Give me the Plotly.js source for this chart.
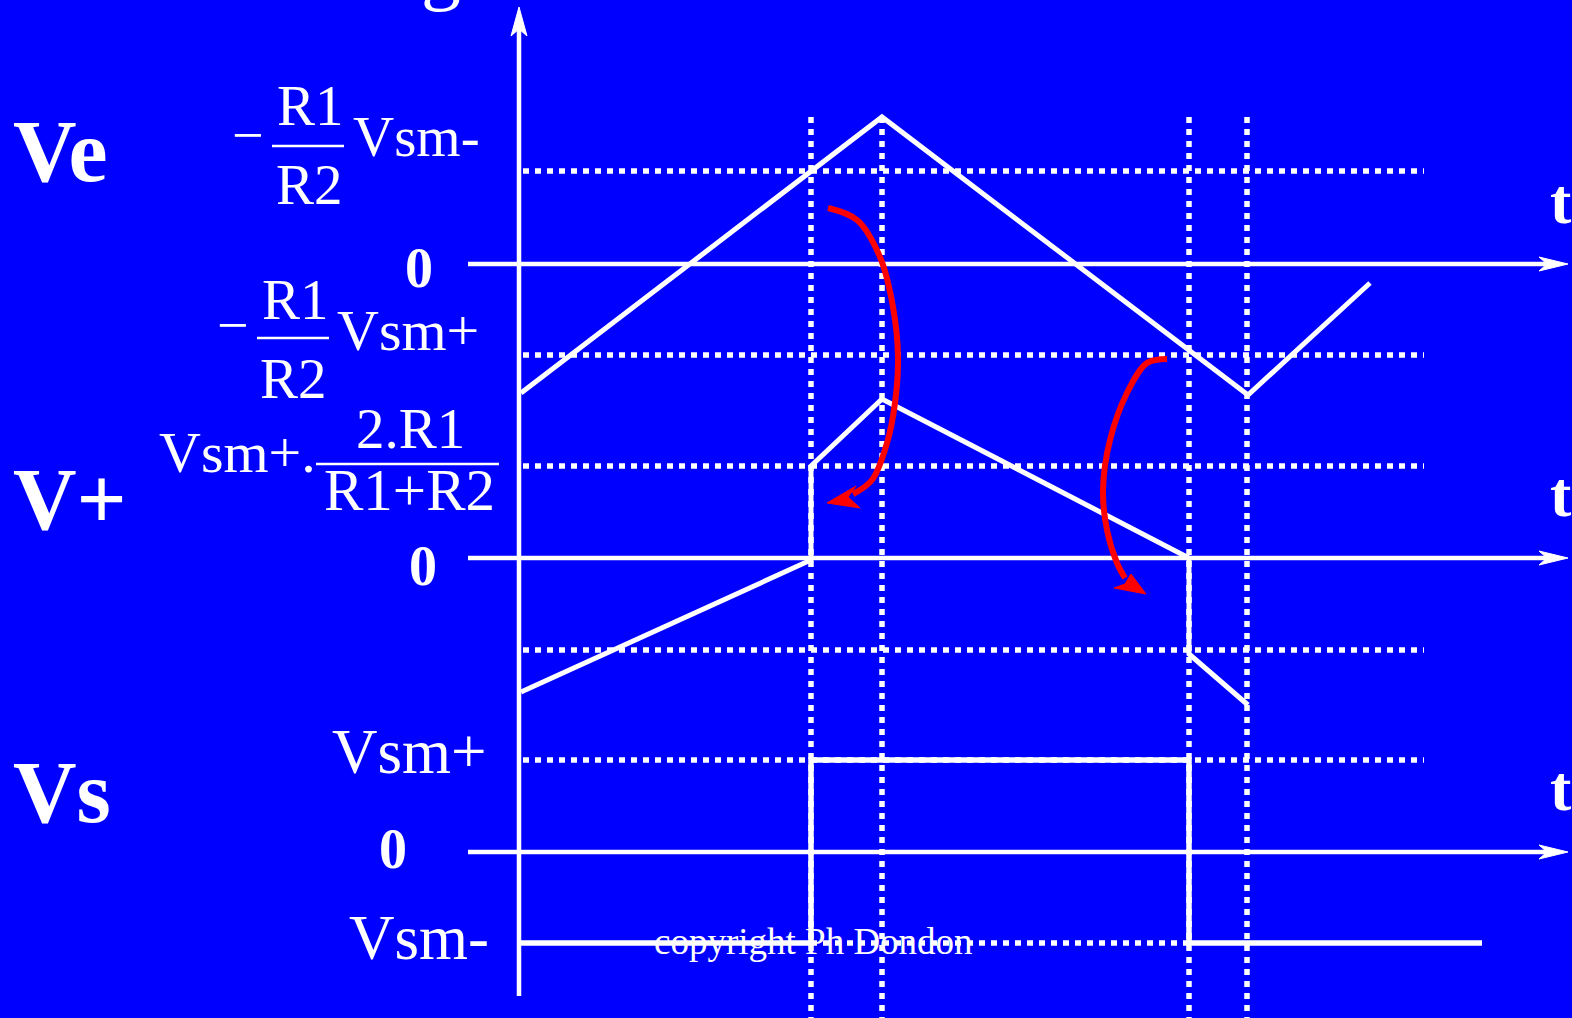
<!DOCTYPE html>
<html>
<head>
<meta charset="utf-8">
<script src="https://cdn.plot.ly/plotly-3.0.1.min.js"></script>
<style>html,body{margin:0;padding:0;background:#0000ff;overflow:hidden}#chart{width:1572px;height:1018px}</style>
</head>
<body>
<div id="chart"></div>
<script>
// ---- diagram data (drawing units = pixels of the 1572x1018 frame) ----
const switchTimes = [811, 882, 1189, 1247];          // vertical dotted markers
const levelLines  = [171, 355, 466, 650, 760];        // dotted threshold levels
const zeroLines   = [264, 558, 852];                  // time axes (Ve, V+, Vs)

const veTime = [521, 882, 1248, 1370];
const veVal  = [393, 117, 395, 283];

const vpTime = [521, 811, 811, 882, 1189, 1189, 1248];
const vpVal  = [692, 560, 466, 399, 558, 654, 705];

const vsTime = [521, 811, 811, 1189, 1189, 1482];
const vsVal  = [943, 943, 760, 760, 943, 943];

const vsmMinusDotTime = [811, 1189];
const vsmMinusLevel = 943;

const arrow1X = [828, 857, 880, 893, 898, 895, 887, 872, 853];
const arrow1Y = [208, 220, 257, 307, 357, 403, 443, 480, 494];
const head1X  = [827, 856, 848, 860, 827];
const head1Y  = [503, 486, 497, 508, 503];

const arrow2X = [1167, 1147, 1127, 1110, 1103, 1107, 1117, 1125];
const arrow2Y = [359, 363, 393, 440, 490, 530, 563, 578];
const head2X  = [1146, 1131, 1125, 1114, 1146];
const head2Y  = [594, 574, 584, 588, 594];

const labels = [
  // text, x, y, size, bold, anchor
  ['Ve', 11, 151, 88, true, 'left'],
  ['V+', 11, 499, 88, true, 'left'],
  ['Vs', 11, 792, 88, true, 'left'],
  ['t', 1548, 201, 64, true, 'left'],
  ['t', 1548, 494, 64, true, 'left'],
  ['t', 1548, 788, 64, true, 'left'],
  ['0', 419, 268, 56, true, 'center'],
  ['0', 423, 566, 56, true, 'center'],
  ['0', 393, 849, 56, true, 'center'],
  ['\u2212', 248, 135, 56, false, 'center'],
  ['R1', 310, 105, 57, false, 'center'],
  ['R2', 309, 184, 57, false, 'center'],
  ['Vsm-', 351, 136, 57, false, 'left'],
  ['\u2212', 233, 325, 56, false, 'center'],
  ['R1', 295, 299, 57, false, 'center'],
  ['R2', 293, 378, 57, false, 'center'],
  ['Vsm+', 335, 330, 58, false, 'left'],
  ['Vsm+.', 157, 452, 58, false, 'left'],
  ['2.R1', 410, 428, 57, false, 'center'],
  ['R1+R2', 409, 490, 59, false, 'center'],
  ['Vsm+', 330, 752, 63, false, 'left'],
  ['Vsm-', 347, 938, 63, false, 'left'],
  ['copyright Ph Dondon', 813, 941, 37, false, 'center']
];
const fractionBars = [[272, 344, 146], [257, 329, 338], [316, 499, 464]];

// ---- build traces ----
const W = 'white';
const traces = [];
function line(x, y, width, dash, color) {
  traces.push({type: 'scatter', mode: 'lines', x: x, y: y, hoverinfo: 'skip',
    line: {color: color || W, width: width, dash: dash || 'solid'}});
}
function poly(x, y, color) {
  traces.push({type: 'scatter', mode: 'lines', x: x, y: y, fill: 'toself',
    fillcolor: color, line: {color: color, width: 1}, hoverinfo: 'skip'});
}
const DOT = '6px,6px';
// vertical dotted markers
switchTimes.forEach(t => line([t, t], [117, 1018], 5.5, DOT));
// horizontal dotted levels
levelLines.forEach(v => line([523, 1424], [v, v], 5.5, DOT));
line(vsmMinusDotTime, [vsmMinusLevel, vsmMinusLevel], 5.5, DOT);
// time axes with arrowheads
zeroLines.forEach(v => {
  line([468, 1548], [v, v], 4.5);
  poly([1568, 1539, 1547, 1539, 1568], [v, v - 7, v, v + 7, v], W);
});
// vertical axis
line([519, 519], [996, 28], 4.5);
poly([519, 511, 519, 527, 519], [7, 36, 29, 36, 7], W);
// waveforms
line(veTime, veVal, 5);
line(vpTime, vpVal, 5);
line(vsTime, vsVal, 5.5);
// red arrows
traces.push({type: 'scatter', mode: 'lines', x: arrow1X, y: arrow1Y, hoverinfo: 'skip',
  line: {color: '#ff0000', width: 6, shape: 'spline'}});
poly(head1X, head1Y, '#ff0000');
traces.push({type: 'scatter', mode: 'lines', x: arrow2X, y: arrow2Y, hoverinfo: 'skip',
  line: {color: '#ff0000', width: 6, shape: 'spline'}});
poly(head2X, head2Y, '#ff0000');
// fraction bars
fractionBars.forEach(b => line([b[0], b[1]], [b[2], b[2]], 2.5));

const FONT = '"Liberation Serif", "Times New Roman", Times, serif';
const annotations = labels.map(l => ({
  text: l[4] ? '<b>' + l[0] + '</b>' : l[0],
  x: l[1], y: l[2], xref: 'x', yref: 'y', xanchor: l[5], yanchor: 'middle',
  showarrow: false, font: {family: FONT, size: l[3], color: W}
}));
// glyph clipped at the top edge, as in the reference
annotations.push({text: 'g', x: 441 / 1572, y: 1 + 32 / 1018, xref: 'paper', yref: 'paper',
  xanchor: 'center', yanchor: 'middle', showarrow: false, font: {family: FONT, size: 80, color: W}});

const layout = {
  width: 1572, height: 1018,
  margin: {l: 0, r: 0, t: 0, b: 0, pad: 0},
  paper_bgcolor: '#0000ff', plot_bgcolor: '#0000ff',
  showlegend: false, hovermode: false,
  xaxis: {range: [0, 1572], visible: false, fixedrange: true},
  yaxis: {range: [1018, 0], visible: false, fixedrange: true},
  annotations: annotations
};
Plotly.newPlot('chart', traces, layout, {staticPlot: true, displayModeBar: false});
</script>
</body>
</html>
